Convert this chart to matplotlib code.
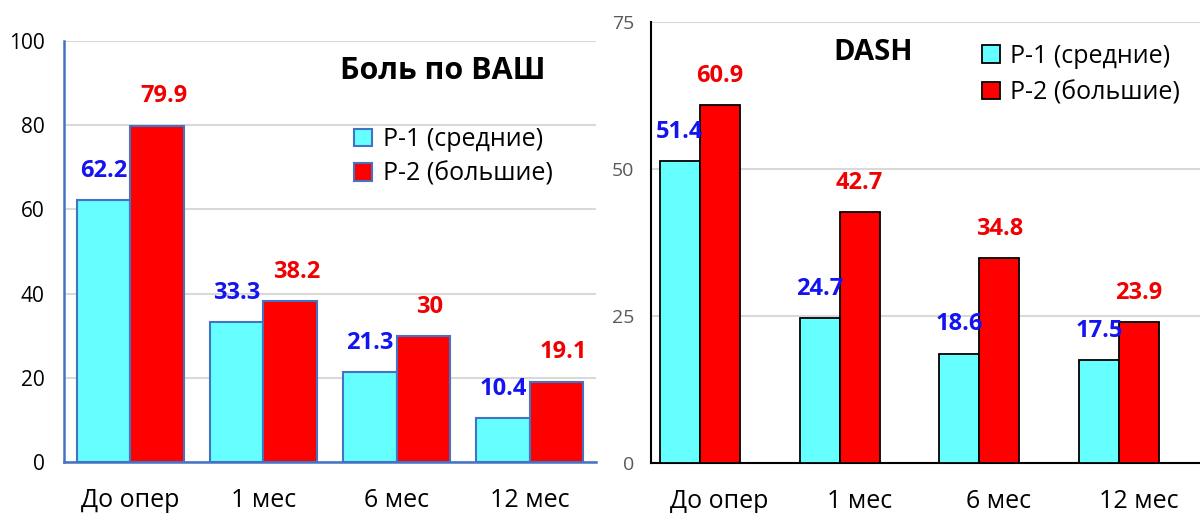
import matplotlib.pyplot as plt
import numpy as np

plt.rcParams['font.family'] = ['Open Sans', 'DejaVu Sans']

categories = ['До опер', '1 мес', '6 мес', '12 мес']
series_names = ['P-1 (средние)', 'P-2 (большие)']

# Боль по ВАШ
vas_p1 = [62.2, 33.3, 21.3, 10.4]
vas_p2 = [79.9, 38.2, 30, 19.1]
vas_labels_p1 = ['62.2', '33.3', '21.3', '10.4']
vas_labels_p2 = ['79.9', '38.2', '30', '19.1']

# DASH
dash_p1 = [51.4, 24.7, 18.6, 17.5]
dash_p2 = [60.9, 42.7, 34.8, 23.9]
dash_labels_p1 = ['51.4', '24.7', '18.6', '17.5']
dash_labels_p2 = ['60.9', '42.7', '34.8', '23.9']

CYAN = '#66FFFF'
RED = '#FF0000'
LBL_BLUE = '#1414F0'
LBL_RED = '#F00000'
GRID = '#D9D9D9'

fig = plt.figure(figsize=(12, 5.13), dpi=100)
x = np.arange(len(categories))


def label_bars(ax, bars, texts, color, dx=0, dy=21):
    for b, t in zip(bars, texts):
        ax.annotate(t, (b.get_x() + b.get_width() / 2, b.get_height()),
                    xytext=(dx, dy), textcoords='offset points',
                    ha='center', va='center', fontsize=17, fontweight='bold',
                    color=color)


# ---- left panel
ax1 = fig.add_axes([0.0533, 0.0994, 0.4434, 0.8207])
w1 = 0.40
edge1 = '#4472C4'
b1 = ax1.bar(x - w1 / 2, vas_p1, w1, color=CYAN, edgecolor=edge1, linewidth=1.5,
             label=series_names[0], zorder=3)
b2 = ax1.bar(x + w1 / 2, vas_p2, w1, color=RED, edgecolor=edge1, linewidth=1.5,
             label=series_names[1], zorder=3)
label_bars(ax1, b1, vas_labels_p1, LBL_BLUE)
label_bars(ax1, b2, vas_labels_p2, LBL_RED, dx=5)
ax1.set_xlim(-0.5, 3.5)
ax1.set_ylim(0, 100)
ax1.set_yticks(np.arange(0, 101, 20))
ax1.set_xticks(x)
ax1.set_xticklabels(categories)
ax1.yaxis.grid(True, color=GRID, linewidth=1.5, zorder=0)
ax1.set_axisbelow(True)
for s in ['top', 'right']:
    ax1.spines[s].set_visible(False)
for s in ['left', 'bottom']:
    ax1.spines[s].set_color(edge1)
    ax1.spines[s].set_linewidth(1.8)
ax1.tick_params(axis='y', length=0, pad=14, labelsize=15, labelcolor='black')
ax1.tick_params(axis='x', length=0, pad=19, labelsize=18)
ax1.text(0.712, 0.928, 'Боль по ВАШ', transform=ax1.transAxes, ha='center',
         va='center', fontsize=22, fontweight='bold')
ax1.legend(loc='upper left', bbox_to_anchor=(0.545, 0.795), frameon=False,
           fontsize=18, handlelength=0.72, handleheight=0.72, handletextpad=0.45,
           labelspacing=0.38, borderaxespad=0, borderpad=0)

# ---- right panel
ax2 = fig.add_axes([0.5425, 0.0975, 0.4575, 0.8596])
w2 = 0.286
b3 = ax2.bar(x - w2 / 2, dash_p1, w2, color=CYAN, edgecolor='black', linewidth=1.3,
             label=series_names[0], zorder=3)
b4 = ax2.bar(x + w2 / 2, dash_p2, w2, color=RED, edgecolor='black', linewidth=1.3,
             label=series_names[1], zorder=3)
label_bars(ax2, b3, dash_labels_p1, LBL_BLUE)
label_bars(ax2, b4, dash_labels_p2, LBL_RED)
ax2.set_xlim(-0.35, 3.58)
ax2.set_ylim(0, 75)
ax2.set_yticks([0, 25, 50, 75])
ax2.set_xticks(x + 0.14)
ax2.set_xticklabels(categories)
ax2.yaxis.grid(True, color=GRID, linewidth=1.5, zorder=0)
ax2.set_axisbelow(True)
for s in ['top', 'right']:
    ax2.spines[s].set_visible(False)
for s in ['left', 'bottom']:
    ax2.spines[s].set_color('black')
    ax2.spines[s].set_linewidth(1.5)
ax2.tick_params(axis='y', length=0, pad=12, labelsize=14, labelcolor='#595959')
ax2.tick_params(axis='x', length=0, pad=19, labelsize=18)
ax2.text(0.405, 0.93, 'DASH', transform=ax2.transAxes, ha='center',
         va='center', fontsize=21, fontweight='bold')
ax2.legend(loc='upper left', bbox_to_anchor=(0.603, 0.95), frameon=False,
           fontsize=18, handlelength=0.72, handleheight=0.72, handletextpad=0.4,
           labelspacing=0.45, borderaxespad=0, borderpad=0)

fig.savefig('out.png', dpi=100)
